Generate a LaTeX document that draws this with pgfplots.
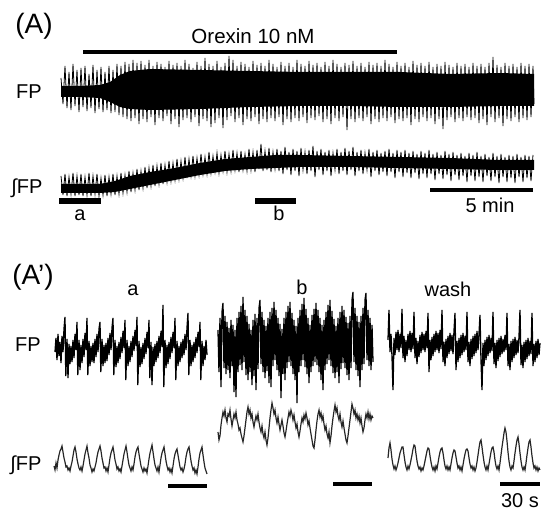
\documentclass[border=0pt]{standalone}
\usepackage{pgfplots}
\pgfplotsset{compat=1.18}
\usepackage{fontspec}
\setmainfont{Liberation Sans}
\begin{document}
\begin{tikzpicture}
\begin{axis}[
  x=1pt, y=1pt,
  xmin=0, xmax=550, ymin=0, ymax=518,
  y dir=reverse,
  scale only axis,
  hide axis,
  clip=false,
]
\path (axis cs:0,0) rectangle (axis cs:550,518);

% ---------------- (A) slow trace ----------------
% core band of FP
\addplot[fill=black, draw=none] coordinates {
  (61,86) (80,86) (100,85) (110,82) (120,75) (130,71) (150,69) (200,70) (250,71)
  (300,72) (350,72) (400,72) (450,74) (500,73) (534,74)
  (534,106) (500,106) (450,107) (400,107) (350,106) (300,106) (250,107) (200,109)
  (150,110) (130,109) (120,107) (110,102) (100,98) (80,97) (61,97)
};
% FP spikes
\addplot[black, line width=0.8pt] coordinates {
(61,78)(63,104)(65,66)(67,108)(69,72)(71,110)(73,64)(75,106)(77,70)(79,112)
(81,68)(83,107)(85,66)(87,111)(89,74)(91,108)(93,65)(95,113)(97,70)(99,109)
(101,67)(103,112)(105,72)(107,110)(109,66)(111,113)(113,70)(115,112)(117,64)(119,115)
(121,66)(123,117)(125,62)(127,119)(129,64)(131,121)(133,60)(135,118)(137,63)(139,124)
(141,61)(143,119)(145,65)(147,122)(149,60)(151,117)(153,66)(155,125)(157,62)(159,118)
(161,64)(163,121)(165,67)(167,116)(169,61)(171,124)(173,65)(175,119)(177,63)(179,127)
(181,66)(183,120)(185,60)(187,118)(189,64)(191,122)(193,68)(195,117)(197,62)(199,126)
(201,66)(203,119)(205,58)(207,121)(209,64)(211,127)(213,66)(215,123)(217,61)(219,118)
(221,67)(223,128)(225,63)(227,120)(229,56)(231,116)(233,60)(235,122)(237,66)(239,118)
(241,62)(243,125)(245,64)(247,119)(249,67)(251,121)(253,61)(255,117)(257,65)(259,124)
(261,63)(263,119)(265,66)(267,122)(269,60)(271,118)(273,64)(275,121)(277,67)(279,117)
(281,62)(283,125)(285,66)(287,119)(289,63)(291,122)(293,67)(295,118)(297,60)(299,121)
(301,64)(303,117)(305,66)(307,123)(309,61)(311,118)(313,65)(315,120)(317,63)(319,116)
(321,67)(323,122)(325,62)(327,119)(329,66)(331,124)(333,60)(335,118)(337,64)(339,121)
(341,67)(343,117)(345,63)(347,130)(349,65)(351,119)(353,61)(355,122)(357,66)(359,118)
(361,63)(363,121)(365,67)(367,117)(369,62)(371,124)(373,65)(375,119)(377,63)(379,122)
(381,66)(383,118)(385,60)(387,121)(389,64)(391,117)(393,67)(395,123)(397,62)(399,119)
(401,66)(403,121)(405,63)(407,118)(409,67)(411,125)(413,61)(415,119)(417,65)(419,122)
(421,63)(423,117)(425,66)(427,121)(429,62)(431,118)(433,67)(435,124)(437,64)(439,119)
(441,66)(443,129)(445,62)(447,120)(449,65)(451,117)(453,67)(455,122)(457,63)(459,118)
(461,66)(463,121)(465,64)(467,117)(469,67)(471,120)(473,63)(475,118)(477,66)(479,123)
(481,64)(483,119)(485,67)(487,125)(489,63)(491,117)(493,57)(495,122)(497,65)(499,118)
(501,67)(503,126)(505,63)(507,119)(509,66)(511,121)(513,64)(515,117)(517,67)(519,122)
(521,63)(523,118)(525,66)(527,120)(529,64)(531,117)(533,66)(534,104)
};
% core band of integrated FP
\addplot[fill=black, draw=none] coordinates {
  (61,184) (90,184) (100,184) (115,181) (130,176) (150,172) (175,168) (200,163)
  (225,159) (250,157) (275,155) (300,155) (350,156) (400,157) (450,158) (500,160) (534,160)
  (534,170) (500,170) (450,169) (400,168) (350,167) (300,167) (275,168) (250,169)
  (225,171) (200,175) (175,180) (150,185) (130,189) (115,192) (100,193) (90,193) (61,193)
};
\addplot[black, line width=0.8pt] coordinates {
(61,176)(63,195)(65,174)(67,196)(69,177)(71,194)(73,173)(75,196)(77,176)(79,195)
(81,174)(83,196)(85,177)(87,195)(89,173)(91,196)(93,176)(95,194)(97,174)(99,196)
(101,178)(103,195)(105,175)(107,196)(109,177)(111,194)(113,174)(115,195)(117,176)(119,194)
(121,173)(123,193)(125,175)(127,192)(129,171)(131,192)(133,173)(135,190)(137,169)(139,190)
(141,171)(143,188)(145,167)(147,188)(149,168)(151,186)(153,165)(155,186)(157,166)(159,184)
(161,163)(163,184)(165,165)(167,182)(169,161)(171,181)(173,163)(175,180)(177,159)(179,179)
(181,161)(183,178)(185,157)(187,178)(189,159)(191,176)(193,156)(195,176)(197,158)(199,175)
(201,154)(203,174)(205,157)(207,174)(209,152)(211,173)(213,156)(215,172)(217,153)(219,173)
(221,155)(223,171)(225,151)(227,172)(229,154)(231,171)(233,150)(235,170)(237,153)(239,172)
(241,151)(243,170)(245,154)(247,171)(249,149)(251,170)(253,152)(255,172)(257,150)(259,169)
(261,144)(263,171)(265,151)(267,170)(269,148)(271,172)(273,152)(275,169)(277,149)(279,171)
(281,151)(283,174)(285,147)(287,170)(289,152)(291,175)(293,149)(295,171)(297,151)(299,176)
(301,148)(303,170)(305,152)(307,174)(309,150)(311,171)(313,146)(315,177)(317,151)(319,170)
(321,149)(323,175)(325,152)(327,171)(329,150)(331,176)(333,153)(335,170)(337,149)(339,174)
(341,152)(343,171)(345,148)(347,175)(349,151)(351,170)(353,147)(355,176)(357,152)(359,171)
(361,150)(363,174)(365,153)(367,170)(369,149)(371,177)(373,152)(375,171)(377,150)(379,175)
(381,153)(383,172)(385,151)(387,176)(389,149)(391,172)(393,153)(395,178)(397,150)(399,172)
(401,152)(403,177)(405,150)(407,173)(409,153)(411,178)(413,151)(415,173)(417,154)(419,179)
(421,151)(423,174)(425,153)(427,178)(429,150)(431,174)(433,154)(435,180)(437,152)(439,174)
(441,155)(443,179)(445,151)(447,175)(449,154)(451,181)(453,152)(455,175)(457,155)(459,180)
(461,153)(463,176)(465,156)(467,182)(469,153)(471,176)(473,155)(475,181)(477,152)(479,177)
(481,156)(483,182)(485,154)(487,176)(489,157)(491,181)(493,153)(495,177)(497,156)(499,183)
(501,154)(503,177)(505,157)(507,182)(509,155)(511,178)(513,156)(515,183)(517,154)(519,177)
(521,157)(523,182)(525,155)(527,178)(529,156)(531,181)(533,155)
};
% bars of panel A
\addplot[black, line width=4pt] coordinates {(83,52) (397,52)};
\addplot[black, line width=6pt] coordinates {(59,201) (101,201)};
\addplot[black, line width=6pt] coordinates {(255,201) (296,201)};
\addplot[black, line width=4pt] coordinates {(430,190) (533,190)};

% ---------------- (A') fast traces ----------------
% FP a
\addplot[black, line width=1.3pt] coordinates {
(55,352)(56,338)(57,360)(58,334)(59,356)(60,342)(61,363)(62,336)(63,352)(64,329)
(65,317)(65.8,376)(67,339)(68,378)(69,344)(70,364)(71,346)(72,362)(73,340)(74,358)
(75,334)(76,350)(77,322)(77.8,375)(79,340)(80,370)(81,345)(82,363)(83,339)(84,357)
(85,333)(86,350)(87,318)(87.8,375)(89,341)(90,366)(91,346)(92,362)(93,343)(94,363)
(95,339)(96,357)(97,334)(98,352)(99,329)(100,322)(100.8,372)(102,339)(103,366)(104,345)
(105,363)(106,343)(107,361)(108,338)(109,355)(110,333)(111,350)(112,328)(113,318)(113.8,375)
(115,340)(116,367)(117,346)(118,363)(119,342)(120,359)(121,337)(122,353)(123,331)(124,348)
(125,320)(125.8,380)(127,340)(128,366)(129,346)(130,362)(131,341)(132,357)(133,336)(134,351)
(135,330)(136,346)(137,317)(137.8,385)(139,341)(140,367)(141,347)(142,364)(143,343)(144,359)
(145,338)(146,354)(147,332)(148,348)(149,320)(149.8,378)(151,342)(152,385)(153,347)(154,366)
(155,344)(156,362)(157,341)(158,358)(159,336)(160,353)(161,331)(162,347)(163,305)(163.8,387)
(165,340)(166,368)(167,345)(168,364)(169,342)(170,359)(171,337)(172,353)(173,332)(174,348)
(175,318)(175.8,380)(177,341)(178,366)(179,346)(180,362)(181,342)(182,358)(183,339)(184,355)
(185,334)(186,350)(187,328)(188,313)(188.8,375)(190,340)(191,366)(192,345)(193,362)(194,342)
(195,358)(196,337)(197,353)(198,332)(199,347)(200,322)(200.8,380)(202,341)(203,366)(204,346)
(205,360)(206,340)(207,355)
};
% integrated FP a
\addplot[black!85, line width=1.2pt] coordinates {
(54,466)(55,470)(56,463)(57,468)(58,460)(59,455)(60,451)(61,449)(62,446)(63,452)
(64,458)(65,462)(66,467)(67,466)(68,470)(69,468)(70,471)(71,466)(72,462)(73,456)
(74,450)(75,447)(76,452)(77,459)(78,464)(79,468)(80,470)(81,467)(82,471)(83,466)
(84,460)(85,454)(86,450)(87,446)(88,453)(89,458)(90,465)(91,468)(92,472)(93,469)
(94,471)(95,467)(96,463)(97,457)(98,452)(99,449)(100,446)(101,451)(102,458)(103,463)
(104,468)(105,467)(106,471)(107,468)(108,472)(109,465)(110,458)(111,453)(112,450)(113,447)
(114,453)(115,460)(116,464)(117,469)(118,467)(119,471)(120,469)(121,472)(122,466)(123,460)
(124,454)(125,450)(126,446)(127,452)(128,459)(129,465)(130,468)(131,471)(132,467)(133,470)
(134,464)(135,457)(136,452)(137,449)(138,447)(139,454)(140,460)(141,466)(142,469)(143,472)
(144,468)(145,471)(146,469)(147,473)(148,466)(149,459)(150,453)(151,449)(152,445)(153,452)
(154,459)(155,465)(156,468)(157,471)(158,467)(159,472)(160,465)(161,458)(162,453)(163,450)
(164,447)(165,454)(166,461)(167,466)(168,470)(169,468)(170,472)(171,469)(172,473)(173,466)
(174,459)(175,454)(176,451)(177,449)(178,455)(179,461)(180,467)(181,470)(182,468)(183,472)
(184,469)(185,464)(186,457)(187,452)(188,449)(189,447)(190,454)(191,461)(192,466)(193,470)
(194,468)(195,473)(196,470)(197,474)(198,467)(199,459)(200,453)(201,450)(202,447)(203,455)
(204,462)(205,468)(206,471)(207,474)
};
% FP b
\addplot[black, line width=1.3pt] coordinates {
(218,330)(219,372)(220,318)(221,387)(222,312)(223,303)(224,368)(225,316)(226,374)(227,322)
(228,370)(229,328)(230,378)(231,320)(232,366)(233,325)(234,392)(235,330)(236,397)(237,318)
(238,372)(239,312)(240,365)(241,306)(242,370)(243,297)(244,362)(245,310)(246,375)(247,316)
(248,380)(249,324)(250,372)(251,330)(252,385)(253,320)(254,376)(255,314)(256,390)(257,318)
(258,369)(259,308)(260,300)(261,364)(262,312)(263,372)(264,320)(265,378)(266,326)(267,371)
(268,318)(269,383)(270,312)(271,387)(272,308)(273,366)(274,302)(275,360)(276,310)(277,370)
(278,318)(279,376)(280,324)(281,398)(282,329)(283,374)(284,318)(285,380)(286,312)(287,368)
(288,306)(289,362)(290,302)(291,366)(292,313)(293,374)(294,320)(295,380)(296,326)(297,403)
(298,318)(299,372)(300,310)(301,366)(302,304)(303,360)(304,298)(305,367)(306,309)(307,374)
(308,318)(309,383)(310,325)(311,372)(312,315)(313,366)(314,309)(315,362)(316,303)(317,365)
(318,310)(319,372)(320,318)(321,380)(322,325)(323,390)(324,320)(325,370)(326,312)(327,364)
(328,305)(329,360)(330,300)(331,366)(332,311)(333,373)(334,319)(335,378)(336,326)(337,372)
(338,318)(339,383)(340,312)(341,369)(342,306)(343,363)(344,310)(345,368)(346,317)(347,375)
(348,323)(349,380)(350,316)(351,368)(352,300)(353,292)(354,362)(355,308)(356,370)(357,316)
(358,376)(359,322)(360,387)(361,316)(362,370)(363,308)(364,364)(365,300)(366,293)(367,360)
(368,310)(369,366)(370,318)(371,370)(372,325)(373,362)
};
% integrated FP b
\addplot[black!85, line width=1.2pt] coordinates {
(218,432)(219,440)(220,436)(221,425)(222,418)(223,412)(224,416)(225,410)(226,418)(227,422)
(228,414)(229,416)(230,410)(231,419)(232,426)(233,420)(234,414)(235,418)(236,412)(237,420)
(238,424)(239,430)(240,428)(241,434)(242,438)(243,442)(244,436)(245,428)(246,420)(247,412)
(248,407)(249,414)(250,410)(251,418)(252,414)(253,422)(254,427)(255,421)(256,416)(257,420)
(258,414)(259,422)(260,428)(261,432)(262,426)(263,434)(264,438)(265,432)(266,440)(267,445)
(268,438)(269,428)(270,418)(271,410)(272,403)(273,408)(274,414)(275,410)(276,418)(277,423)
(278,417)(279,424)(280,430)(281,425)(282,420)(283,426)(284,433)(285,437)(286,431)(287,424)
(288,418)(289,412)(290,416)(291,410)(292,414)(293,420)(294,415)(295,422)(296,428)(297,424)
(298,432)(299,437)(300,431)(301,424)(302,418)(303,422)(304,415)(305,419)(306,413)(307,418)
(308,425)(309,421)(310,428)(311,434)(312,440)(313,446)(314,448)(315,440)(316,430)(317,421)
(318,414)(319,410)(320,417)(321,413)(322,420)(323,416)(324,424)(325,430)(326,426)(327,434)
(328,438)(329,432)(330,443)(331,436)(332,426)(333,418)(334,411)(335,405)(336,412)(337,408)
(338,416)(339,420)(340,414)(341,422)(342,427)(343,421)(344,428)(345,434)(346,440)(347,443)
(348,436)(349,428)(350,420)(351,412)(352,404)(353,408)(354,414)(355,410)(356,418)(357,414)
(358,420)(359,416)(360,423)(361,418)(362,426)(363,432)(364,428)(365,420)(366,414)(367,418)
(368,412)(369,419)(370,414)(371,420)(372,416)(373,418)
};
% FP wash
\addplot[black, line width=1.3pt] coordinates {
(388,340)(389,310)(390,352)(391,334)(392,356)(393,390)(394,338)(395,355)(396,332)(397,350)
(398,330)(399,352)(400,334)(401,348)(402,309)(403,358)(404,336)(405,362)(406,340)(407,356)
(408,334)(409,350)(410,331)(411,352)(412,333)(413,349)(414,312)(415,358)(416,338)(417,364)
(418,341)(419,357)(420,335)(421,353)(422,332)(423,350)(424,334)(425,352)(426,331)(427,348)
(428,313)(429,372)(430,340)(431,360)(432,337)(433,356)(434,334)(435,352)(436,331)(437,350)
(438,333)(439,353)(440,330)(441,349)(442,310)(443,362)(444,342)(445,366)(446,339)(447,358)
(448,336)(449,354)(450,333)(451,351)(452,335)(453,354)(454,331)(455,313)(456,370)(457,341)
(458,362)(459,338)(460,358)(461,335)(462,355)(463,333)(464,352)(465,336)(466,350)(467,312)
(468,362)(469,342)(470,366)(471,339)(472,359)(473,336)(474,356)(475,334)(476,353)(477,331)
(478,350)(479,334)(480,315)(481,360)(482,390)(483,343)(484,366)(485,340)(486,360)(487,337)
(488,356)(489,335)(490,353)(491,338)(492,351)(493,312)(494,364)(495,343)(496,368)(497,340)
(498,361)(499,338)(500,357)(501,336)(502,354)(503,339)(504,352)(505,335)(506,350)(507,313)
(508,366)(509,344)(510,370)(511,341)(512,362)(513,339)(514,358)(515,337)(516,355)(517,340)
(518,353)(519,337)(520,310)(521,365)(522,345)(523,368)(524,342)(525,362)(526,340)(527,359)
(528,338)(529,356)(530,341)(531,354)(532,313)(533,366)(534,344)(535,362)(536,341)(537,358)
(538,339)(539,355)(540,343)
};
% integrated FP wash
\addplot[black!85, line width=1.2pt] coordinates {
(388,458)(389,448)(390,443)(391,450)(392,459)(393,465)(394,469)(395,466)(396,470)(397,467)
(398,463)(399,458)(400,453)(401,450)(402,447)(403,447)(404,455)(405,462)(406,467)(407,470)
(408,466)(409,469)(410,465)(411,460)(412,455)(413,449)(414,445)(415,446)(416,454)(417,461)
(418,466)(419,469)(420,467)(421,471)(422,468)(423,470)(424,466)(425,461)(426,456)(427,451)
(428,448)(429,449)(430,456)(431,462)(432,467)(433,470)(434,467)(435,471)(436,466)(437,469)
(438,463)(439,457)(440,452)(441,449)(442,448)(443,453)(444,460)(445,466)(446,469)(447,466)
(448,470)(449,467)(450,470)(451,464)(452,458)(453,453)(454,450)(455,451)(456,457)(457,463)
(458,468)(459,466)(460,470)(461,467)(462,471)(463,465)(464,459)(465,454)(466,450)(467,449)
(468,451)(469,458)(470,464)(471,468)(472,466)(473,470)(474,467)(475,471)(476,468)(477,462)
(478,455)(479,448)(480,442)(481,440)(482,447)(483,455)(484,462)(485,467)(486,470)(487,466)
(488,470)(489,464)(490,458)(491,452)(492,448)(493,447)(494,452)(495,460)(496,466)(497,469)
(498,466)(499,470)(500,463)(501,455)(502,447)(503,440)(504,433)(505,428)(506,432)(507,441)
(508,452)(509,461)(510,467)(511,470)(512,466)(513,468)(514,461)(515,453)(516,446)(517,440)
(518,437)(519,444)(520,453)(521,461)(522,467)(523,470)(524,467)(525,470)(526,463)(527,455)
(528,448)(529,442)(530,440)(531,447)(532,456)(533,463)(534,468)(535,466)(536,470)(537,467)
(538,471)(539,468)(540,470)
};
% scale bars of panel A'
\addplot[black, line width=4.5pt] coordinates {(168,486) (207,486)};
\addplot[black, line width=4.5pt] coordinates {(333,484) (372,484)};
\addplot[black, line width=4.5pt] coordinates {(500,484) (540,484)};

% ---------------- text ----------------
\node[font=\fontsize{28}{31}\selectfont] at (axis cs:34,26) {(A)};
\node[font=\fontsize{20.5}{24}\selectfont] at (axis cs:253,36) {Orexin 10 nM};
\node[font=\fontsize{20}{24}\selectfont] at (axis cs:29,92) {FP};
\node[font=\fontsize{20}{24}\selectfont] at (axis cs:27,188) {∫FP};
\node[font=\fontsize{20}{24}\selectfont] at (axis cs:80,215) {a};
\node[font=\fontsize{20}{24}\selectfont] at (axis cs:279,213) {b};
\node[font=\fontsize{20}{24}\selectfont] at (axis cs:490,205) {5 min};
\node[font=\fontsize{28}{31}\selectfont] at (axis cs:33,277) {(A’)};
\node[font=\fontsize{20}{24}\selectfont] at (axis cs:133,290) {a};
\node[font=\fontsize{20}{24}\selectfont] at (axis cs:302,287) {b};
\node[font=\fontsize{20}{24}\selectfont] at (axis cs:448,289) {wash};
\node[font=\fontsize{20}{24}\selectfont] at (axis cs:28,345) {FP};
\node[font=\fontsize{20}{24}\selectfont] at (axis cs:26,465) {∫FP};
\node[font=\fontsize{20}{24}\selectfont] at (axis cs:520,501) {30 s};
\end{axis}
\end{tikzpicture}
\end{document}
